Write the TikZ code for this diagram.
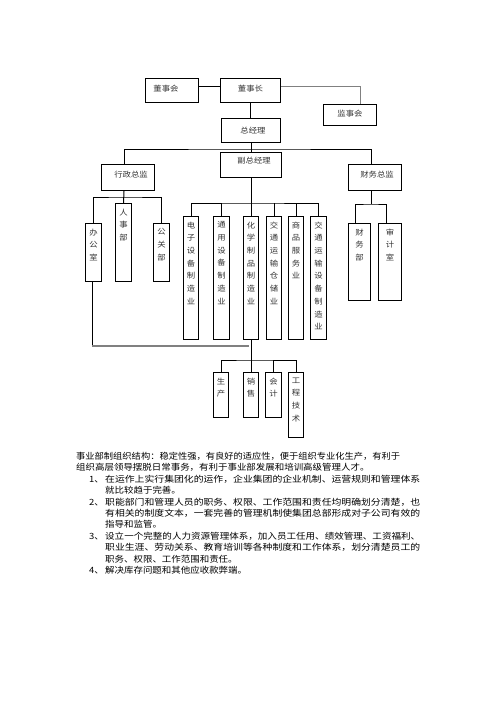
\documentclass[tikz,border=0pt]{standalone}
\usepackage{fontspec}
\usepackage{graphicx}
\setmainfont{Noto Sans CJK SC}[FakeStretch=1.1]
\newcommand{\lblfont}{\fontsize{7.6pt}{12.7pt}\selectfont}
\newcommand{\txtfont}{\fontsize{8.6pt}{11.4pt}\selectfont}
\newcommand{\fullline}[2]{\resizebox{#1}{\height}{#2}}

\begin{document}
\begin{tikzpicture}[x=1pt,y=-1pt,
  orgbox/.style={draw, line width=1pt, inner sep=0pt, anchor=north west},
  hlab/.style={anchor=north, inner sep=0pt, yshift=-6.5pt, font=\lblfont, text=black!80},
  vlab/.style={anchor=north, inner sep=0pt, yshift=-5.5pt, align=center, font=\lblfont, text=black!80},
  grayline/.style={line width=1.6pt, draw=black!50}]
  \useasboundingbox (0,0) rectangle (496,702);

  % top level
  \node[orgbox, minimum width=53pt, minimum height=24pt, label={[hlab, xshift=-6pt]north:董事会}] (dsh) at (145,78) {};
  \node[orgbox, minimum width=60pt, minimum height=24pt, label={[hlab]north:董事长}] (dsz) at (220,78) {};
  \node[orgbox, minimum width=53pt, minimum height=21pt, label={[hlab, yshift=1pt]north:监事会}] (jsh) at (323,104) {};
  \node[orgbox, minimum width=59pt, minimum height=24pt, label={[hlab, yshift=-2pt, xshift=2pt]north:总经理}] (zjl) at (221,118) {};

  % second level
  \node[orgbox, minimum width=61pt, minimum height=25pt, label={[hlab, yshift=2pt, xshift=3pt]north:副总经理}] (fzjl) at (220,152) {};
  \node[orgbox, minimum width=53pt, minimum height=26pt, label={[hlab, xshift=3pt]north:行政总监}] (xzzj) at (101,164) {};
  \node[orgbox, minimum width=53pt, minimum height=26pt, label={[hlab, xshift=2pt]north:财务总监}] (cwzj) at (348,164) {};

  % departments
  \node[orgbox, minimum width=16pt, minimum height=58pt, label={[vlab]north:{办\\公\\室}}] (bgs) at (85,223) {};
  \node[orgbox, minimum width=16pt, minimum height=78pt, label={[vlab]north:{人\\事\\部}}] (rsb) at (115,203) {};
  \node[orgbox, minimum width=16pt, minimum height=58pt, label={[vlab]north:{公\\关\\部}}] (ggb) at (153,223) {};

  \node[orgbox, minimum width=15pt, minimum height=123pt, label={[vlab]north:{电\\子\\设\\备\\制\\造\\业}}] (dz) at (183,216) {};
  \node[orgbox, minimum width=16pt, minimum height=123pt, label={[vlab]north:{通\\用\\设\\备\\制\\造\\业}}] (ty) at (213,216) {};
  \node[orgbox, minimum width=15pt, minimum height=123pt, label={[vlab]north:{化\\学\\制\\品\\制\\造\\业}}] (hx) at (243,216) {};
  \node[orgbox, minimum width=15pt, minimum height=123pt, label={[vlab]north:{交\\通\\运\\输\\仓\\储\\业}}] (jtcc) at (266,216) {};
  \node[orgbox, minimum width=15pt, minimum height=123pt, label={[vlab]north:{商\\品\\服\\务\\业}}] (sp) at (288,216) {};
  \node[orgbox, minimum width=16pt, minimum height=123pt, label={[vlab]north:{交\\通\\运\\输\\设\\备\\制\\造\\业}}] (jtsb) at (310,216) {};

  \node[orgbox, minimum width=22pt, minimum height=77pt, label={[vlab]north:{财\\务\\部}}] (cwb) at (348,223) {};
  \node[orgbox, minimum width=23pt, minimum height=77pt, label={[vlab]north:{审\\计\\室}}] (sjs) at (378,223) {};

  % functions
  \node[orgbox, minimum width=15pt, minimum height=45pt, label={[vlab]north:{生\\产}}] (sc) at (213,372) {};
  \node[orgbox, minimum width=15pt, minimum height=45pt, label={[vlab]north:{销\\售}}] (xs) at (243,372) {};
  \node[orgbox, minimum width=16pt, minimum height=45pt, label={[vlab]north:{会\\计}}] (kj) at (265,372) {};
  \node[orgbox, minimum width=15pt, minimum height=65pt, label={[vlab]north:{工\\程\\技\\术}}] (gc) at (288,372) {};

  % connectors
  \draw[line width=1pt] ([yshift=4pt]dsh.east) -- ([yshift=4pt]dsz.west);
  \draw[grayline] ([yshift=4pt]dsz.east) -| ([xshift=10.5pt]jsh.north);
  \draw[line width=1pt] (dsz.south) -- (dsz.south |- zjl.north);
  \draw[line width=1pt] (zjl.south) -- (zjl.south |- fzjl.north);
  \coordinate (bar1) at ([yshift=3pt]fzjl.north);
  \draw[line width=1pt] ([xshift=-4pt]xzzj.north) |- (bar1) -| ([xshift=-4pt]cwzj.north);

  \draw[line width=1pt] ([xshift=-4pt]xzzj.south) -- (rsb.north);
  \coordinate (bar2) at ([yshift=6pt]rsb.north);
  \draw[line width=1pt] (bgs.north) |- (bar2) -| (ggb.north);

  \draw[line width=1pt] (fzjl.south) -- (fzjl.south |- hx.north);
  \coordinate (bar3) at ([yshift=13pt]hx.north);
  \draw[line width=1pt] (dz.north) |- (bar3) -| (jtsb.north);
  \foreach \n in {ty,jtcc,sp}
    \draw[line width=1pt] (\n.north) -- ++(0,13pt);

  \coordinate (bar4) at ([xshift=-4pt,yshift=-13pt]cwzj.south);
  \draw[line width=1pt] ([xshift=-4pt]cwzj.south) -- (bar4);
  \draw[line width=1pt] ([xshift=-4pt]cwb.north) |- (bar4) -| ([xshift=-4pt]sjs.north);

  \coordinate (gjoin) at ([xshift=-2.5pt,yshift=-6pt]hx.south);
  \draw[line width=1pt] ([xshift=-1.5pt]bgs.south) -- ([xshift=-1.5pt]bgs.south |- gjoin);
  \draw[grayline] ([xshift=-1.5pt]bgs.south |- gjoin) -- (gjoin);

  \coordinate (bar5) at ([yshift=-20pt]hx.south);
  \draw[line width=1pt] (hx.south) -- (bar5);
  \draw[line width=1pt] (sc.north) |- (bar5) -| (gc.north);
  \draw[line width=1pt] (xs.north) -- (xs.north |- bar5);
  \draw[line width=1pt] (kj.north) -- (kj.north |- bar5);

  % description
  \node[inner sep=0pt, anchor=north west, font=\txtfont] (desc) at (76,451.3) {%
    \begin{tabular}{@{}p{29pt}@{}l@{}}
      \multicolumn{2}{@{}l@{}}{\fullline{324pt}{事业部制组织结构：稳定性强，有良好的适应性，便于组织专业化生产，有利于}}\\
      \multicolumn{2}{@{}l@{}}{组织高层领导摆脱日常事务，有利于事业部发展和培训高级管理人才。}\\
      \hspace*{13pt}1、 & \fullline{315pt}{在运作上实行集团化的运作，企业集团的企业机制、运营规则和管理体系}\\
       & 就比较趋于完善。\\
      \hspace*{13pt}2、 & \fullline{315pt}{职能部门和管理人员的职务、权限、工作范围和责任均明确划分清楚，也}\\
       & \fullline{315pt}{有相关的制度文本，一套完善的管理机制使集团总部形成对子公司有效的}\\
       & 指导和监管。\\
      \hspace*{13pt}3、 & \fullline{315pt}{设立一个完整的人力资源管理体系，加入员工任用、绩效管理、工资福利、}\\
       & \fullline{315pt}{职业生涯、劳动关系、教育培训等各种制度和工作体系，划分清楚员工的}\\
       & 职务、权限、工作范围和责任。\\
      \hspace*{13pt}4、 & 解决库存问题和其他应收款弊端。
    \end{tabular}};
\end{tikzpicture}
\end{document}
